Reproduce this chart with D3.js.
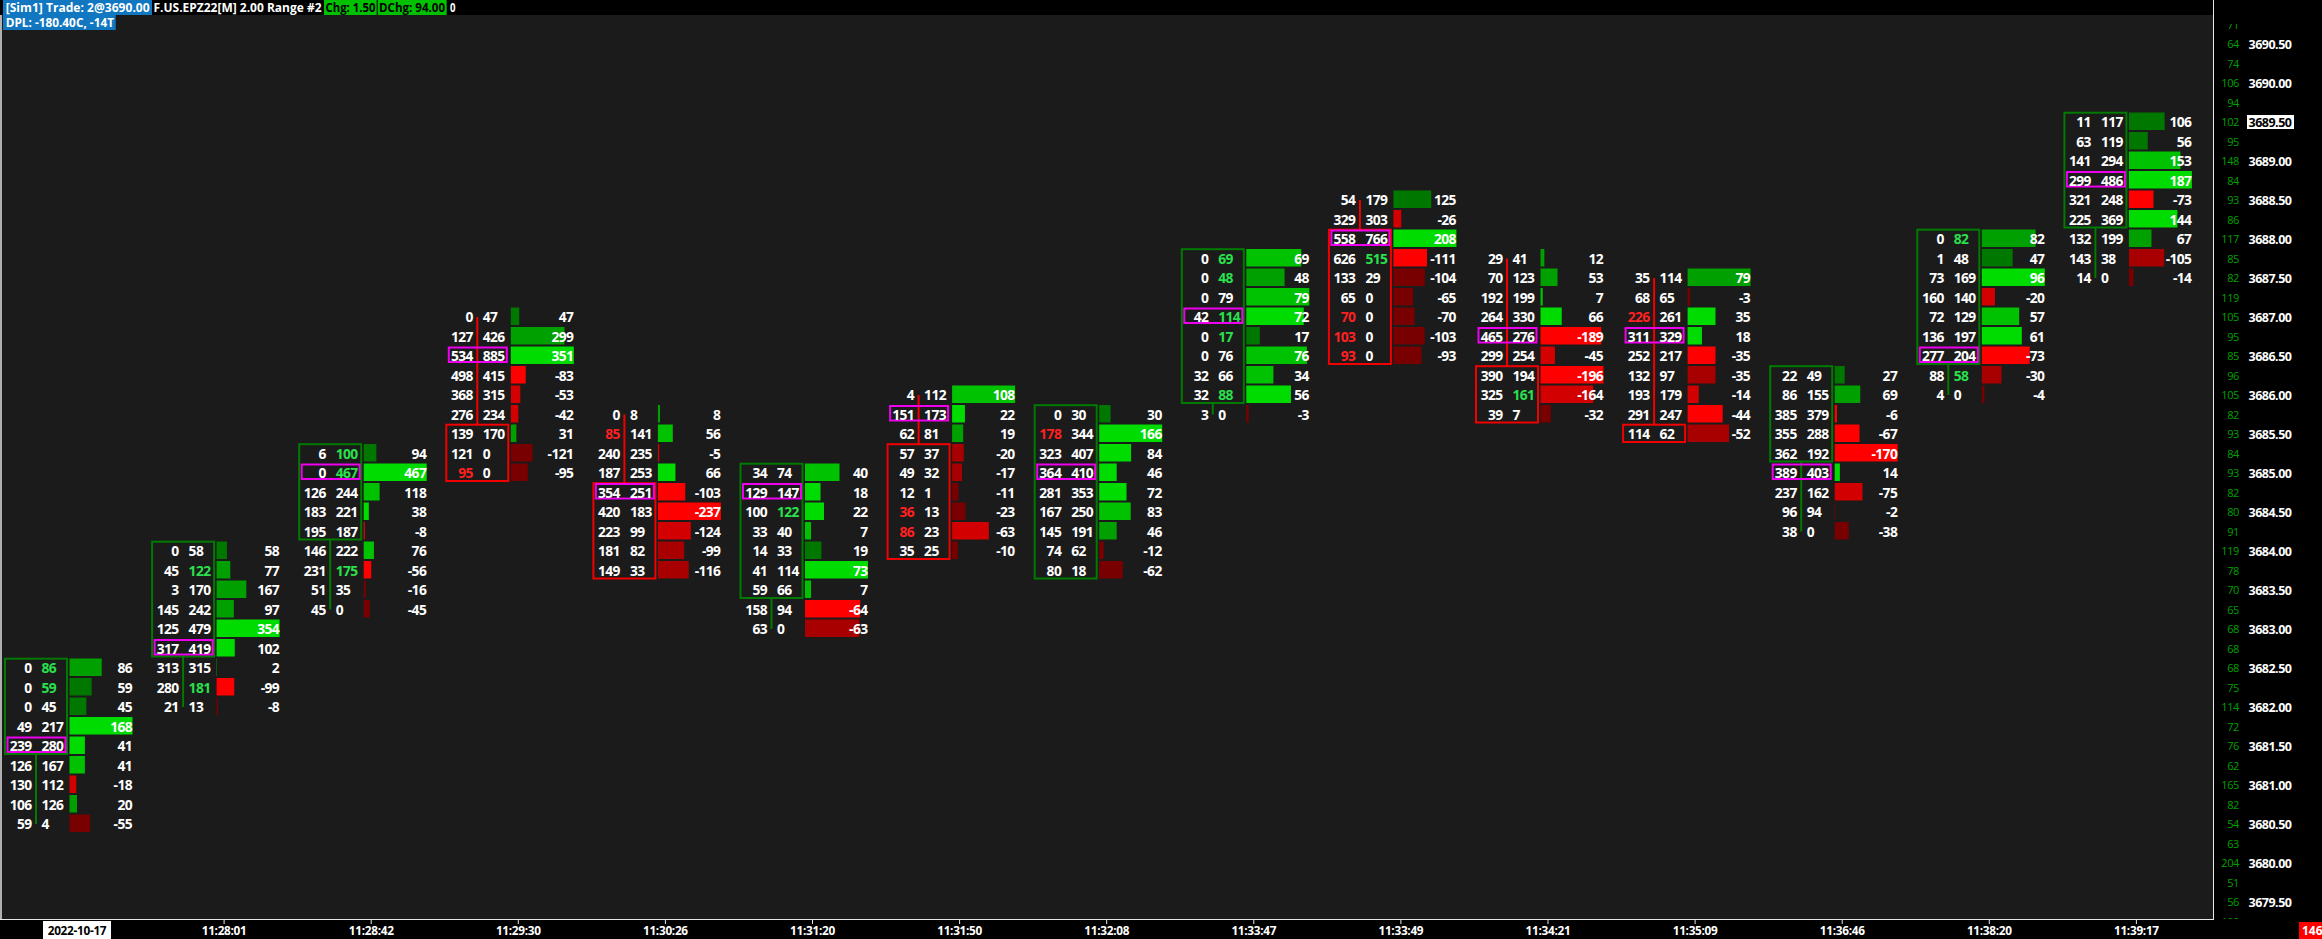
<!DOCTYPE html>
<html><head><meta charset="utf-8">
<script src="https://cdn.jsdelivr.net/npm/d3@7"></script>
<style>html,body{margin:0;padding:0;background:#000;overflow:hidden}</style>
</head><body><svg id="c" width="2322" height="939"></svg>
<script>
// ---------------- DATA ----------------
const timeLabels = ["2022-10-17","11:28:01","11:28:42","11:29:30","11:30:26","11:31:20","11:31:50","11:32:08","11:33:47","11:33:49","11:34:21","11:35:09","11:36:46","11:38:20","11:39:17"];
const barHigh  = [3682.50,3684.00,3685.25,3687.00,3685.75,3685.00,3686.00,3685.75,3687.75,3688.50,3687.75,3687.50,3686.25,3688.00,3689.50];
const barOpen  = [3681.50,3682.75,3684.25,3685.50,3684.75,3683.50,3685.25,3683.75,3686.00,3688.00,3686.25,3685.50,3685.25,3686.50,3688.25];
const barClose = [3682.50,3684.00,3685.25,3685.00,3683.75,3685.00,3684.00,3685.75,3687.75,3686.50,3685.75,3685.50,3686.25,3688.00,3689.50];
// rows listed from the bar's high downward, one per 0.25 tick
const bidVol = [
  [0,0,0,49,239,126,130,106,59],
  [0,45,3,145,125,317,313,280,21],
  [6,0,126,183,195,146,231,51,45],
  [0,127,534,498,368,276,139,121,95],
  [0,85,240,187,354,420,223,181,149],
  [34,129,100,33,14,41,59,158,63],
  [4,151,62,57,49,12,36,86,35],
  [0,178,323,364,281,167,145,74,80],
  [0,0,0,42,0,0,32,32,3],
  [54,329,558,626,133,65,70,103,93],
  [29,70,192,264,465,299,390,325,39],
  [35,68,226,311,252,132,193,291,114],
  [22,86,385,355,362,389,237,96,38],
  [0,1,73,160,72,136,277,88,4],
  [11,63,141,299,321,225,132,143,14]
];
const askVol = [
  [86,59,45,217,280,167,112,126,4],
  [58,122,170,242,479,419,315,181,13],
  [100,467,244,221,187,222,175,35,0],
  [47,426,885,415,315,234,170,0,0],
  [8,141,235,253,251,183,99,82,33],
  [74,147,122,40,33,114,66,94,0],
  [112,173,81,37,32,1,13,23,25],
  [30,344,407,410,353,250,191,62,18],
  [69,48,79,114,17,76,66,88,0],
  [179,303,766,515,29,0,0,0,0],
  [41,123,199,330,276,254,194,161,7],
  [114,65,261,329,217,97,179,247,62],
  [49,155,379,288,192,403,162,94,0],
  [82,48,169,140,129,197,204,58,0],
  [117,119,294,486,248,369,199,38,0]
];
// heat level (1..4) of each delta cell
const heat = [
  [2,1,1,4,4,3,3,2,1],
  [1,2,2,2,4,4,3,4,1],
  [1,4,3,4,4,3,4,1,1],
  [1,2,4,4,3,3,2,1,1],
  [2,3,3,4,4,4,3,2,2],
  [3,4,4,3,1,4,3,4,2],
  [3,4,2,2,2,1,1,3,1],
  [1,4,4,4,4,3,2,1,1],
  [3,2,3,4,1,3,3,4,1],
  [1,3,4,4,1,1,1,1,1],
  [2,2,3,4,4,3,4,3,1],
  [2,1,4,4,4,2,3,4,2],
  [1,2,4,4,4,4,3,1,1],
  [2,1,4,3,3,4,4,2,1],
  [1,1,3,4,4,4,2,2,1]
];
const priceLabels = [3690.50,3690.00,3689.50,3689.00,3688.50,3688.00,3687.50,3687.00,3686.50,3686.00,3685.50,3685.00,3684.50,3684.00,3683.50,3683.00,3682.50,3682.00,3681.50,3681.00,3680.50,3680.00,3679.50];
const profileTop = 3690.75;
const profileVol = [71,64,74,106,94,102,95,148,84,93,86,117,85,82,119,105,95,85,96,105,82,93,84,93,82,80,91,119,78,70,65,68,68,68,75,114,72,76,62,165,82,54,63,204,51,56,100];
const currentPrice = 3689.50;
const headerLine1 = ["[Sim1]  Trade: 2@3690.00","F.US.EPZ22[M]  2.00 Range  #2","Chg: 1.50","DChg: 94.00","0"];
const headerLine2 = "DPL: -180.40C, -14T";
const barCounter = "146";
const TICK = 0.25;

// ---------------- DRAW ----------------
const W = 2322, H = 939, PLOT_R = 2213, PLOT_T = 15, PLOT_B = 919;
const BG = "#1b1b1b";
const FONT = "'Open Sans','Noto Sans',sans-serif";
const svg = d3.select("#c");
svg.append("rect").attr("width", W).attr("height", H).attr("fill", "#000");
svg.append("rect").attr("x", 0).attr("y", PLOT_T).attr("width", PLOT_R).attr("height", PLOT_B - PLOT_T).attr("fill", BG);

const defs = svg.append("defs");
defs.append("clipPath").attr("id", "plotClip").append("rect").attr("x", 0).attr("y", PLOT_T).attr("width", PLOT_R).attr("height", PLOT_B - PLOT_T);
defs.append("clipPath").attr("id", "axisClip").append("rect").attr("x", PLOT_R).attr("y", 24).attr("width", W - PLOT_R).attr("height", PLOT_B - 24);

const y = d3.scaleLinear().domain([3690.5, 3679.5]).range([44, 902]);
const x = d3.scalePoint().domain(d3.range(timeLabels.length)).range([36, 2095.4]);

const greenShades = d3.scaleOrdinal().domain([1,2,3,4]).range(["#007800","#00a000","#00c200","#00dc00"]);
const redShades = d3.scaleOrdinal().domain([1,2,3,4]).range(["#780000","#a80000","#d20000","#ff0000"]);

const g = svg.append("g").attr("clip-path", "url(#plotClip)");

timeLabels.forEach((_, i) => {
  const cx = x(i);
  const up = barClose[i] > barOpen[i];
  const candleCol = up ? "#007a00" : "#f20000";
  const rows = bidVol[i].map((b, j) => ({
    price: barHigh[i] - j * TICK, bid: b, ask: askVol[i][j],
    delta: askVol[i][j] - b, heat: heat[i][j], j
  }));
  const n = rows.length;
  const low = rows[n - 1].price;
  const bg = g.append("g");

  // wick
  bg.append("line").attr("x1", cx).attr("x2", cx)
    .attr("y1", y(barHigh[i])).attr("y2", y(low))
    .attr("stroke", candleCol).attr("stroke-width", 2);
  // body
  const top = y(Math.max(barOpen[i], barClose[i])) - 9.3;
  const bot = y(Math.min(barOpen[i], barClose[i])) + 8;
  bg.append("rect").attr("x", cx - 31).attr("y", top).attr("width", 62).attr("height", bot - top)
    .attr("fill", BG).attr("stroke", candleCol).attr("stroke-width", 2);
  // POC
  const poc = d3.maxIndex(rows, r => r.bid + r.ask);
  bg.append("rect").attr("x", cx - 28.5).attr("y", y(rows[poc].price) - 8.5).attr("width", 58).attr("height", 14.5)
    .attr("fill", "none").attr("stroke", "#ee00ee").attr("stroke-width", 2);

  // delta histogram
  const hs = d3.scaleLinear().domain([0, d3.max(rows, r => Math.abs(r.delta))]).range([0, 63]);
  bg.selectAll("rect.h").data(rows).join("rect").attr("class", "h")
    .attr("x", cx + 33.5).attr("y", r => y(r.price) - 9.5)
    .attr("width", r => hs(Math.abs(r.delta))).attr("height", 17.5)
    .attr("fill", r => r.delta >= 0 ? greenShades(r.heat) : redShades(r.heat));

  const txt = (sel) => sel.attr("font-family", FONT).attr("font-weight", 700).attr("font-size", "13.8px").attr("letter-spacing", "-0.6px");
  // bid
  bg.selectAll("text.b").data(rows).join("text").attr("class", "b").call(txt)
    .attr("x", cx - 4.5).attr("y", r => y(r.price) + 5).attr("text-anchor", "end")
    .attr("fill", r => {
      const above = r.j > 0 ? rows[r.j - 1].ask : null;
      return (above !== null && r.bid > 0 && r.bid >= 3 * above) ? "#ff2020" : "#ffffff";
    })
    .text(r => r.bid);
  // ask
  bg.selectAll("text.a").data(rows).join("text").attr("class", "a").call(txt)
    .attr("x", cx + 5.5).attr("y", r => y(r.price) + 5).attr("text-anchor", "start")
    .attr("fill", r => {
      const below = r.j < n - 1 ? rows[r.j + 1].bid : null;
      return (below !== null && r.ask > 0 && r.ask >= 3 * below) ? "#2ae04c" : "#ffffff";
    })
    .text(r => r.ask);
  // delta
  bg.selectAll("text.d").data(rows).join("text").attr("class", "d").call(txt)
    .attr("x", cx + 96).attr("y", r => y(r.price) + 5).attr("text-anchor", "end")
    .attr("fill", "#ffffff")
    .text(r => r.delta);
});

// borders
svg.append("rect").attr("x", 0).attr("y", PLOT_T).attr("width", 2).attr("height", PLOT_B - PLOT_T).attr("fill", "#b0b0b0");
svg.append("line").attr("x1", PLOT_R + 0.5).attr("x2", PLOT_R + 0.5).attr("y1", 0).attr("y2", PLOT_B + 1).attr("stroke", "#e8e8e8").attr("stroke-width", 1);
svg.append("line").attr("x1", 0).attr("x2", PLOT_R + 1).attr("y1", PLOT_B + 0.5).attr("y2", PLOT_B + 0.5).attr("stroke", "#e8e8e8").attr("stroke-width", 1);

// right axis
const ax = svg.append("g").attr("clip-path", "url(#axisClip)");
ax.selectAll("text.pv").data(profileVol).join("text").attr("class", "pv")
  .attr("x", 2239).attr("y", (v, k) => y(profileTop - k * TICK) + 4)
  .attr("text-anchor", "end").attr("fill", "#00a000")
  .attr("font-family", FONT).attr("font-size", "11px").attr("letter-spacing", "-0.4px")
  .text(v => v);
priceLabels.forEach(p => {
  const cur = p === currentPrice;
  if (cur) ax.append("rect").attr("x", 2247).attr("y", y(p) - 7).attr("width", 47).attr("height", 14).attr("fill", "#fff");
  ax.append("text").attr("x", 2248.5).attr("y", y(p) + 4.5)
    .attr("fill", cur ? "#000" : "#fff").attr("font-family", FONT).attr("font-weight", 700)
    .attr("font-size", "12.5px").attr("letter-spacing", "-0.5px")
    .text(p.toFixed(2));
});

// time axis
timeLabels.forEach((t, i) => {
  const lx = x(i) + 41;
  if (i === 0) {
    svg.append("rect").attr("x", lx - 34).attr("y", 921).attr("width", 68).attr("height", 18).attr("fill", "#fff");
  } else {
    svg.append("line").attr("x1", lx).attr("x2", lx).attr("y1", PLOT_B).attr("y2", PLOT_B + 5).attr("stroke", "#e8e8e8");
  }
  svg.append("text").attr("x", lx).attr("y", 934.5).attr("text-anchor", "middle")
    .attr("fill", i === 0 ? "#000" : "#fff").attr("font-family", FONT).attr("font-weight", 700)
    .attr("font-size", "11.8px").attr("letter-spacing", "-0.3px").text(t);
});

// counter box
svg.append("rect").attr("x", 2299).attr("y", 922).attr("width", 30).attr("height", 17).attr("fill", "#ff0000");
svg.append("text").attr("x", 2302).attr("y", 935).attr("fill", "#fff").attr("font-family", FONT).attr("font-weight", 700).attr("font-size", "12px").text(barCounter);

// header
const hdr = svg.append("g").attr("font-family", FONT).attr("font-weight", 700).attr("font-size", "11.5px");
const segs = [
  {x0: 3, x1: 152, tx: 5.7, tl: 144, bg: "#1277c1", fg: "#fff"},
  {x0: 152, x1: 323.5, tx: 153.5, tl: 168, bg: "#000", fg: "#fff"},
  {x0: 324, x1: 376.7, tx: 325.5, tl: 50, bg: "#00c000", fg: "#000"},
  {x0: 377.7, x1: 446.7, tx: 379, tl: 66, bg: "#00c000", fg: "#000"},
  {x0: 447, x1: 458, tx: 450, tl: 5.5, bg: "#000", fg: "#fff"}
];
segs.forEach((s, k) => {
  hdr.append("rect").attr("x", s.x0).attr("y", 0).attr("width", s.x1 - s.x0).attr("height", 15).attr("fill", s.bg);
  hdr.append("text").attr("x", s.tx).attr("y", 12).attr("fill", s.fg)
    .attr("textLength", s.tl).attr("lengthAdjust", "spacingAndGlyphs").text(headerLine1[k]);
});
hdr.append("rect").attr("x", 3).attr("y", 15).attr("width", 112.7).attr("height", 15).attr("fill", "#1277c1");
hdr.append("text").attr("x", 5.7).attr("y", 27).attr("fill", "#fff")
  .attr("textLength", 108.3).attr("lengthAdjust", "spacingAndGlyphs").text(headerLine2);
</script></body></html>
